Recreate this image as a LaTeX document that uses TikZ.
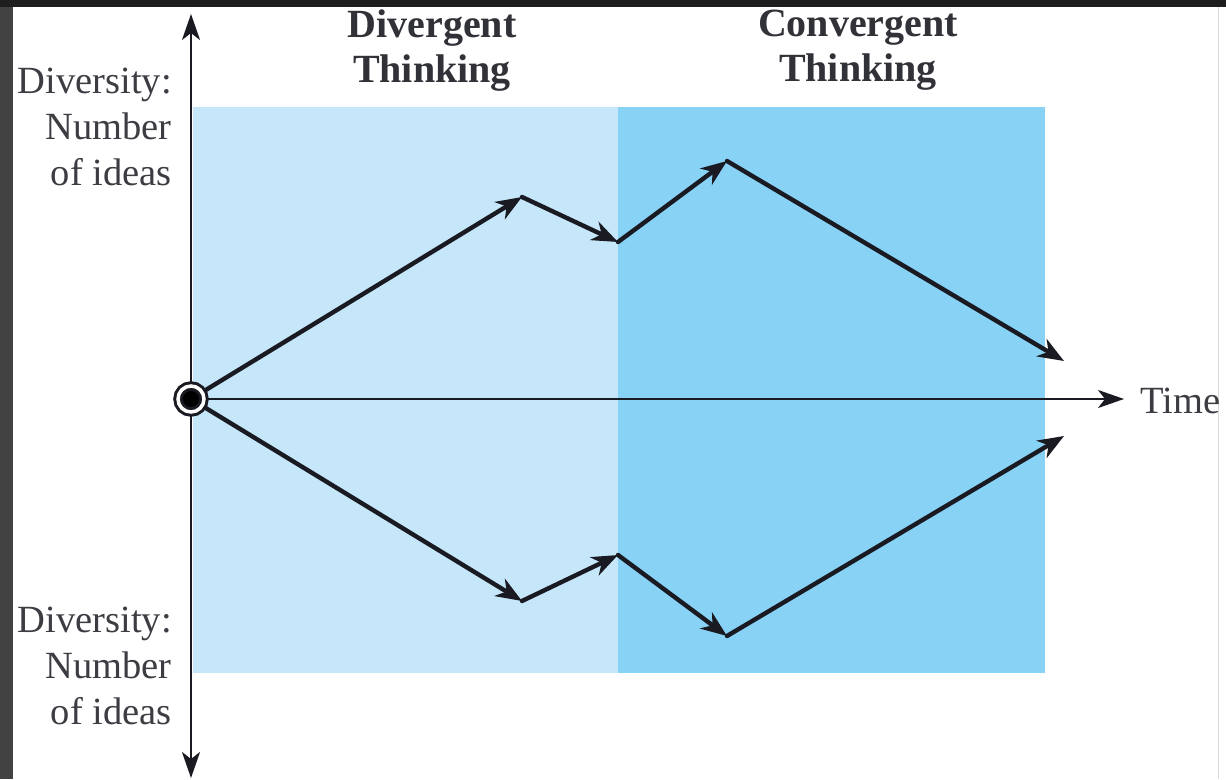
\documentclass[tikz,border=0pt]{standalone}
\usepackage{fontspec}
\setmainfont{Liberation Serif}
\usetikzlibrary{arrows.meta}
\definecolor{lightzone}{HTML}{C6E7FA}
\definecolor{darkzone}{HTML}{88D2F5}
\definecolor{frameTop}{HTML}{1E1E1E}
\definecolor{frameLeft}{HTML}{424242}
\definecolor{ink}{HTML}{1A1A22}
\tikzset{
  axisline/.style={draw=ink, line width=2.3pt, -{Stealth[length=26pt,width=18pt,inset=7pt]}},
  flow/.style={draw=ink, line width=4.4pt, line cap=round, -{Stealth[length=26pt,width=20pt,inset=8pt]}},
  sidelabel/.style={font=\fontsize{38.5}{46}\selectfont, align=right, inner sep=0pt, text=ink!85},
  headlabel/.style={font=\fontsize{40}{45}\selectfont\bfseries, align=center, inner sep=0pt, text=ink!90},
}
\begin{document}
\begin{tikzpicture}[x=1pt,y=-1pt]
\useasboundingbox (0,0) rectangle (1226,779);
% frame
\fill[white] (0,0) rectangle (1226,779);
\fill[frameTop] (0,0) rectangle (1226,7);
\fill[frameLeft] (0,7) rectangle (13,779);
\draw[black!15, line width=1pt] (1218,7) -- (1218,779);
% zones
\fill[lightzone] (193,107) rectangle (618,673);
\fill[darkzone] (618,107) rectangle (1045,673);
% coordinates
\coordinate (O) at (191,399);
\coordinate (Ytop) at (191,14);
\coordinate (Ybot) at (191,778);
\coordinate (Xend) at (1124,399);
\coordinate (U1) at (522,197);
\coordinate (U2) at (618,242);
\coordinate (U3) at (727,161);
\coordinate (U4) at (1064,361);
\coordinate (L1) at (522,601);
\coordinate (L2) at (618,555);
\coordinate (L3) at (727,636);
\coordinate (L4) at (1064,436);
% axes
\draw[axisline] (O) -- (Ytop);
\draw[axisline] (O) -- (Ybot);
\draw[axisline] (O) -- (Xend);
% flows
\draw[flow] (O) -- (U1);
\draw[flow] (U1) -- (U2);
\draw[flow] (U2) -- (U3);
\draw[flow] (U3) -- (U4);
\draw[flow] (O) -- (L1);
\draw[flow] (L1) -- (L2);
\draw[flow] (L2) -- (L3);
\draw[flow] (L3) -- (L4);
% origin marker
\node[circle, fill=black, draw=ink, double=white, double distance=3.5pt, line width=3pt, minimum size=26pt, inner sep=0pt] (origin) at (O) {};
% labels
\node[sidelabel, anchor=north east] (divtop) at (172,68) {Diversity:\\Number\\of ideas};
\node[sidelabel, anchor=north east] (divbot) at (172,607) {Diversity:\\Number\\of ideas};
\node[headlabel, anchor=north] (diverg) at (432,10) {Divergent\\Thinking};
\node[headlabel, anchor=north] (converg) at (858,10) {Convergent\\Thinking};
\node[font=\fontsize{38.5}{46}\selectfont, anchor=base west, inner sep=0pt, text=ink!85] (time) at (1140,413) {Time};
\end{tikzpicture}
\end{document}
